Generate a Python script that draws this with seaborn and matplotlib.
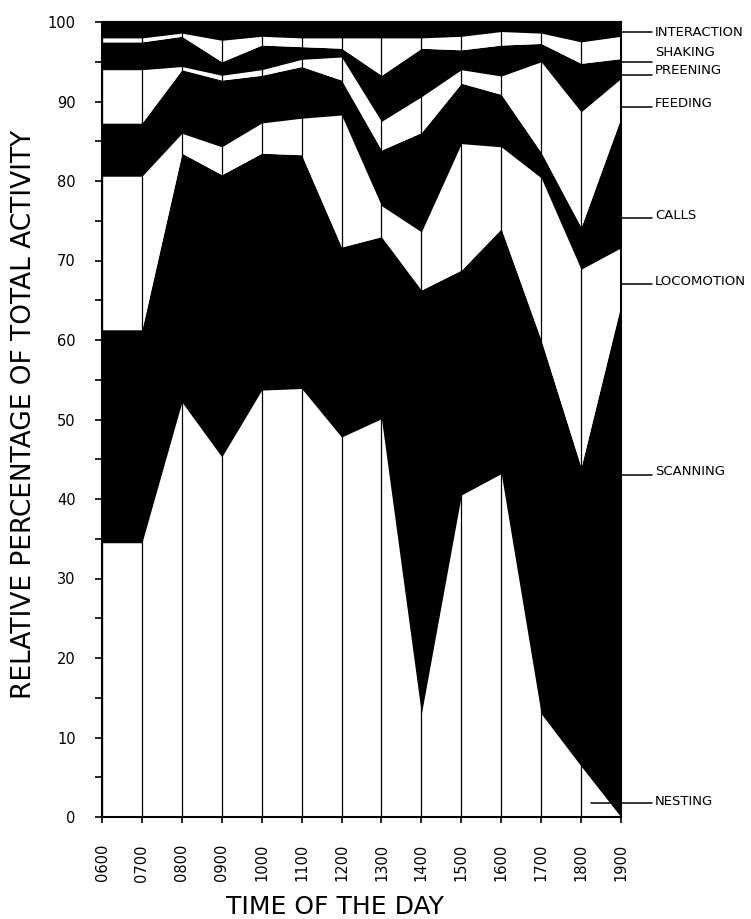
import numpy as np
import matplotlib
matplotlib.use("Agg")
import matplotlib.pyplot as plt
import seaborn as sns

sns.set_style("ticks")
plt.rcParams['font.family'] = ['DejaVu Sans']
plt.rcParams['text.color'] = 'black'
plt.rcParams['xtick.color'] = 'black'
plt.rcParams['ytick.color'] = 'black'

# hours of observation
hours = ['0600', '0700', '0800', '0900', '1000', '1100', '1200',
         '1300', '1400', '1500', '1600', '1700', '1800', '1900']

# relative percentage of each activity per hour (bottom to top of the stack)
nesting = [34.5, 34.5, 52.2, 45.3, 53.7, 53.9, 47.8, 50.1, 13.0, 40.5, 43.2, 13.0, 6.4, 0.0]
scanning = [26.8, 26.8, 31.3, 35.5, 29.8, 29.4, 23.9, 22.9, 53.3, 28.3, 30.8, 47.0, 37.6, 64.5]
locomotion = [19.3, 19.3, 2.5, 3.5, 3.8, 4.6, 16.6, 3.9, 7.3, 15.9, 10.3, 20.4, 24.9, 7.1]
calls = [6.7, 6.7, 8.0, 8.4, 6.0, 6.5, 4.4, 7.0, 12.5, 7.6, 6.6, 3.2, 5.3, 16.4]
feeding = [6.7, 6.7, 0.4, 0.6, 0.7, 0.9, 2.9, 3.6, 4.5, 1.7, 2.3, 11.4, 14.5, 4.9]
preening = [3.5, 3.5, 3.8, 1.7, 3.1, 1.6, 1.1, 5.8, 6.1, 2.5, 3.9, 2.3, 6.1, 2.5]
shaking = [0.5, 0.5, 0.4, 2.7, 1.1, 1.1, 1.3, 4.7, 1.3, 1.7, 1.7, 1.3, 2.7, 2.8]
interaction = [2.0, 2.0, 1.4, 2.3, 1.8, 2.0, 2.0, 2.0, 2.0, 1.8, 1.2, 1.4, 2.5, 1.8]

activities = ['NESTING', 'SCANNING', 'LOCOMOTION', 'CALLS',
              'FEEDING', 'PREENING', 'SHAKING', 'INTERACTION']
# where the labels on the right sit (leader line level, text level)
leader_y = [1.8, 43.0, 67.0, 75.3, 89.3, 93.3, 95.0, 98.8]
text_y = [2.0, 43.4, 67.3, 75.6, 89.7, 93.9, 96.2, 98.7]

layers = [nesting, scanning, locomotion, calls, feeding, preening, shaking, interaction]
colors = ['white', 'black'] * 4

fig = plt.figure(figsize=(7.51, 9.19), dpi=100)
ax = fig.add_axes([102 / 751, 1 - 817 / 919, 519 / 751, 795 / 919])

x = np.arange(len(hours))
ax.stackplot(x, *layers, colors=colors, linewidth=0, antialiased=True)

ax.set_xlim(0, len(hours) - 1)
ax.set_ylim(0, 100)
ax.set_xticks(x)
ax.set_xticklabels(hours, rotation=90)
ax.set_yticks(range(0, 101, 10))
ax.set_yticks(range(5, 100, 10), minor=True)

ax.grid(axis='x', color='black', lw=0.9)
ax.set_axisbelow(False)

ax.tick_params(axis='y', which='both', direction='out', length=5, width=1.2,
               pad=14, labelsize=10.5, colors='black')
ax.tick_params(axis='x', direction='out', length=4, width=1.2, pad=15.5,
               labelsize=10.5, colors='black')
for s in ax.spines.values():
    s.set_linewidth(1.5)
    s.set_color('black')

# labels on the right with short leader lines
last = len(hours) - 1
for name, ly, ty in zip(activities, leader_y, text_y):
    start = last
    if name == 'NESTING':
        start = last - 0.75
    ax.plot([start, last + 0.78], [ly, ly], color='black', lw=1.1,
            clip_on=False, zorder=5)
    ax.text(last + 0.85, ty, name, fontsize=9.5, va='center', ha='left',
            color='black', clip_on=False)

fig.text(24 / 751, 1 - 414 / 919, 'RELATIVE PERCENTAGE OF TOTAL ACTIVITY',
         rotation=90, fontsize=19, ha='center', va='center', color='black')
fig.text(335 / 751, 1 - 907 / 919, 'TIME OF THE DAY', fontsize=18,
         ha='center', va='center', color='black')

fig.savefig('out.png', dpi=100, facecolor='white')
